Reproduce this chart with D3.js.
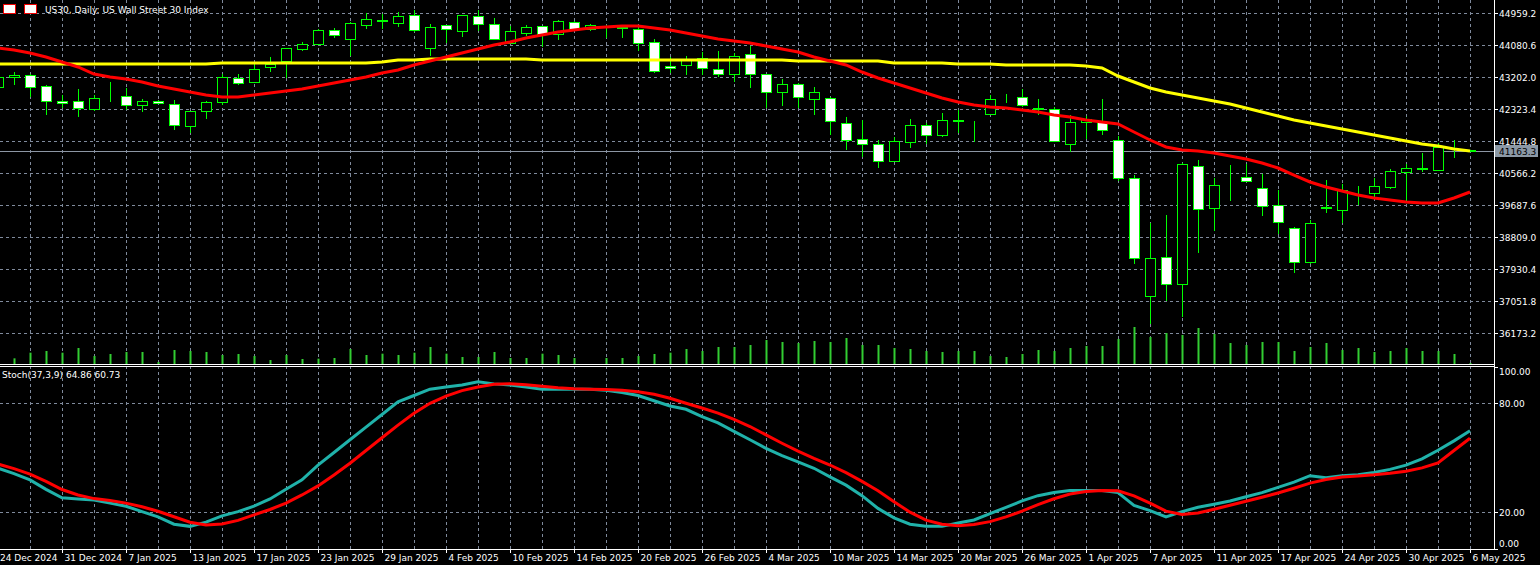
<!DOCTYPE html>
<html>
<head>
<meta charset="utf-8">
<script src="https://cdn.jsdelivr.net/npm/d3@7"></script>
<style>
  body { margin: 0; background: #000; overflow: hidden; }
  svg { display: block; font-family: "DejaVu Sans", sans-serif; }
</style>
</head>
<body>
<svg id="chart" width="1540" height="565"></svg>
<script>
// daily bars, 24 Dec 2024 .. 6 May 2025 (93 bars)
var open = [42919,43194,43249,42947,42535,42535,42315,42672,42672,42425,
  42535,42453,41849,42260,42507,43166,43057,43469,43633,43963,
  44100,44484,44237,44622,44759,44677,44896,43990,44622,44457,
  44869,44649,44127,44402,44594,44375,44704,44512,44567,44567,
  44512,44155,43496,43524,43716,43414,43276,43825,43276,42782,
  43002,42590,42617,41931,41492,41355,40888,41409,41876,41602,
  41986,41986,42178,42590,42645,42330,42315,41355,41958,41958,
  41464,40421,37181,38252,37510,40750,39597,40476,40448,40146,
  39679,39048,38115,39597,39542,40119,40009,40174,40586,40680,
  40640,41245,41190];
var high = [43249,43331,43276,42974,42700,42864,42700,43057,42892,42590,
  42562,42562,42260,42535,43276,43276,43578,43743,43990,44155,
  44512,44539,44704,44951,44924,44979,45033,44649,44622,44896,
  45033,44814,44594,44622,44594,44759,44731,44649,44622,44594,
  44567,44237,43743,43771,43880,43908,43853,44045,43276,43139,
  43029,42919,42645,42096,42013,41464,41546,42041,41931,42205,
  42288,41986,42700,42727,42864,42590,42370,42150,42123,42590,
  41574,40503,39185,39405,40833,40915,40421,40778,40805,40531,
  40091,39075,39268,40366,40256,40201,40421,40668,40805,41107,
  41382,41464,41195];
var low = [42864,42974,42645,42150,42343,42096,42260,42507,42288,42233,
  42453,41739,41656,42041,42425,42974,43029,43331,43166,43908,
  44073,44265,43771,44512,44512,44567,44429,43771,44127,44292,
  44457,44210,44127,44320,44018,44210,44484,44457,44265,44265,
  43908,43304,43304,43249,43249,43194,43057,42892,42343,42398,
  42343,42150,41602,41190,40997,40695,40860,41245,41355,41546,
  41656,41409,42150,42480,42370,42150,41409,41135,41492,41602,
  40338,38060,36412,37044,36604,38362,38966,39789,40338,39377,
  38883,37813,38060,39460,39185,39679,39899,40119,39762,40586,
  40613,40970,41160];
var close = [43194,43249,42919,42535,42480,42343,42617,42665,42425,42535,
  42480,41876,42260,42507,43194,43029,43414,43551,43990,44100,
  44484,44347,44677,44786,44745,44869,44484,44567,44512,44896,
  44649,44237,44457,44567,44375,44731,44512,44622,44594,44553,
  44127,43359,43441,43688,43441,43276,43771,43276,42782,43002,
  42645,42782,41986,41464,41355,40888,41437,41876,41602,42013,
  42000,41975,42590,42600,42425,42315,41437,41958,42041,41739,
  40421,38224,38224,37510,40805,39570,40229,40470,40338,39652,
  39213,38115,39185,39625,40091,40125,40201,40613,40695,40695,
  41272,41240,41163];
var volume = [15,17,34,39,34,48,24,30,36,36,6,
  42,39,36,27,30,24,12,27,15,16,
  18,45,27,31,27,34,51,31,21,21,
  36,18,18,31,27,18,0,18,18,24,
  30,34,45,39,51,51,57,72,66,63,
  69,66,78,57,57,48,45,39,36,39,
  39,24,21,30,42,39,48,54,54,75,
  111,81,93,87,108,90,63,57,66,66,
  39,51,63,42,48,36,39,48,39,39,
  30,3];
var maFast = [43990,43935,43853,43743,43606,43469,43276,43194,43139,43057,
  42947,42864,42782,42700,42645,42645,42700,42755,42810,42864,
  42947,43029,43111,43194,43304,43386,43524,43633,43743,43853,
  43963,44073,44155,44265,44347,44429,44484,44539,44567,44594,
  44594,44539,44484,44402,44320,44237,44182,44127,44045,43963,
  43880,43743,43633,43524,43331,43166,43029,42892,42755,42617,
  42507,42425,42370,42343,42288,42233,42150,42096,42013,41958,
  41903,41684,41464,41272,41190,41162,41107,41025,40943,40833,
  40695,40503,40311,40174,40064,39954,39872,39817,39762,39735,
  39735,39872,40036];
var maSlow = [43551,43551,43551,43551,43551,43551,43551,43551,43551,43551,
  43551,43551,43551,43551,43578,43578,43578,43578,43578,43578,
  43578,43578,43578,43578,43606,43661,43661,43688,43688,43688,
  43688,43688,43688,43688,43661,43661,43661,43661,43661,43661,
  43661,43661,43661,43661,43661,43661,43661,43661,43661,43661,
  43633,43633,43633,43633,43633,43633,43578,43578,43578,43578,
  43551,43551,43551,43524,43524,43524,43524,43524,43496,43441,
  43221,43057,42892,42782,42700,42617,42535,42453,42343,42233,
  42123,42013,41931,41849,41766,41684,41602,41519,41437,41355,
  41300,41217,41162];
var stochMain = [44.2,41.3,37.8,32.6,27.9,27.3,26.7,25.0,23.3,20.3,
  17.4,13.4,12.2,14.5,18.0,20.3,23.3,27.3,32.6,37.8,
  45.9,52.9,59.9,66.9,73.8,80.8,84.3,87.8,89.0,90.1,
  91.9,90.7,90.1,89.0,87.8,87.8,87.8,87.8,87.2,86.0,
  84.3,81.4,78.5,76.7,72.7,69.2,64.5,59.9,55.2,51.2,
  47.7,44.2,39.5,34.9,29.1,22.1,16.9,13.4,12.2,12.2,
  14.0,15.7,19.2,22.7,26.2,29.1,30.8,32.0,32.0,32.0,
  30.8,23.8,20.9,17.4,20.3,22.7,24.4,26.2,28.5,30.8,
  33.7,36.6,40.1,39.0,40.1,40.7,41.9,43.6,45.9,49.4,
  54.1,59.3,64.86];
var stochSignal = [46.5,44.0,41.0,37.0,32.5,29.5,27.5,26.5,25.0,23.0,
  20.5,17.5,14.5,13.0,13.5,15.5,18.5,21.5,25.0,29.5,
  34.5,40.5,47.0,54.0,61.0,68.0,74.5,80.0,84.0,87.0,
  89.0,90.5,90.8,90.2,89.4,88.6,88.0,87.8,87.6,87.2,
  86.4,85.0,82.8,80.0,77.4,74.6,71.2,67.2,62.6,58.0,
  53.6,49.6,46.0,41.8,37.0,31.8,25.8,20.0,15.6,13.4,
  12.6,13.2,14.8,17.4,20.6,24.2,27.4,30.0,31.4,32.0,
  31.8,29.0,25.0,20.6,18.8,19.6,21.6,23.8,26.0,28.2,
  30.6,33.2,36.0,38.0,39.4,40.0,40.6,41.4,42.6,44.4,
  47.2,54.0,60.73];
var dateLabels = ["24 Dec 2024","31 Dec 2024","7 Jan 2025","13 Jan 2025","17 Jan 2025",
  "23 Jan 2025","29 Jan 2025","4 Feb 2025","10 Feb 2025","14 Feb 2025","20 Feb 2025",
  "26 Feb 2025","4 Mar 2025","10 Mar 2025","14 Mar 2025","20 Mar 2025","26 Mar 2025",
  "1 Apr 2025","7 Apr 2025","11 Apr 2025","17 Apr 2025","24 Apr 2025","30 Apr 2025","6 May 2025"];
var dateBars = [0,4,8,12,16,20,24,28,32,36,40,44,48,52,56,60,64,68,72,76,80,84,88,92];
var priceTicks = [44959.2,44080.6,43202.0,42323.4,41444.8,40566.2,39687.6,38809.0,37930.4,37051.8,36173.2];
var stochTicks = [100,80,20,0];
var lastPrice = 41163.3;

var svg = d3.select("#chart");
var W = 1494, mainBottom = 364, subTop = 367, subBottom = 549;
var grid = "#7f8a9c", fg = "#fff", candle = "#00ff00";

var x = d3.scaleLinear().domain([0, 92]).range([-2, 1470]);
var y = d3.scaleLinear().domain([36173.2, 44959.2]).range([332.7, 12.7]);
var yv = d3.scaleLinear().domain([0, 111]).range([mainBottom, mainBottom - 37]);
var ys = d3.scaleLinear().domain([0, 100]).range([548.5, 367]);
var idx = d3.range(open.length);

svg.append("defs").append("clipPath").attr("id", "cm")
  .append("rect").attr("x", 0).attr("y", 0).attr("width", W).attr("height", mainBottom);
svg.select("defs").append("clipPath").attr("id", "cs")
  .append("rect").attr("x", 0).attr("y", subTop).attr("width", W).attr("height", subBottom - subTop);

// grid
var gridX = d3.range(2, 93, 2);
svg.append("g").selectAll("line").data(gridX).join("line")
  .attr("x1", d => x(d) + 0.5).attr("x2", d => x(d) + 0.5)
  .attr("y1", 0).attr("y2", subBottom)
  .attr("stroke", grid).attr("stroke-dasharray", "3,3");
svg.append("g").selectAll("line").data(priceTicks).join("line")
  .attr("x1", 0).attr("x2", W).attr("y1", d => Math.round(y(d)) + 0.5).attr("y2", d => Math.round(y(d)) + 0.5)
  .attr("stroke", grid).attr("stroke-dasharray", "3,3");
svg.append("g").selectAll("line").data([80, 20]).join("line")
  .attr("x1", 0).attr("x2", W).attr("y1", d => Math.round(ys(d)) + 0.5).attr("y2", d => Math.round(ys(d)) + 0.5)
  .attr("stroke", grid).attr("stroke-dasharray", "3,3");

var main = svg.append("g").attr("clip-path", "url(#cm)");

// volumes
main.append("g").selectAll("line").data(idx).join("line")
  .attr("x1", i => x(i) + 0.5).attr("x2", i => x(i) + 0.5)
  .attr("y1", yv(0)).attr("y2", i => yv(volume[i]))
  .attr("stroke", "#32cd32").attr("stroke-width", 2);

// current price line
main.append("line").attr("x1", 0).attr("x2", W)
  .attr("y1", Math.round(y(lastPrice)) + 0.5).attr("y2", Math.round(y(lastPrice)) + 0.5)
  .attr("stroke", "#8c96a4");

// candles
var c = main.append("g").selectAll("g").data(idx).join("g");
c.append("line")
  .attr("x1", i => x(i) + 0.5).attr("x2", i => x(i) + 0.5)
  .attr("y1", i => y(high[i])).attr("y2", i => y(low[i]))
  .attr("stroke", candle);
c.append("rect")
  .attr("x", i => x(i) - 4.5).attr("width", 10)
  .attr("y", i => Math.round(y(Math.max(open[i], close[i]))) + 0.5)
  .attr("height", i => Math.max(0, Math.round(Math.abs(y(open[i]) - y(close[i])))))
  .attr("fill", i => close[i] >= open[i] ? "#000" : "#fff")
  .attr("stroke", candle);

// moving averages
var line = arr => d3.line().x(i => x(i)).y(i => y(arr[i]))(idx);
main.append("path").attr("d", line(maSlow)).attr("fill", "none").attr("stroke", "#ffff00").attr("stroke-width", 3);
main.append("path").attr("d", line(maFast)).attr("fill", "none").attr("stroke", "#ff0000").attr("stroke-width", 3);

// stochastic
var sub = svg.append("g").attr("clip-path", "url(#cs)");
var sline = arr => d3.line().x(i => x(i)).y(i => ys(arr[i]))(idx);
sub.append("path").attr("d", sline(stochMain)).attr("fill", "none").attr("stroke", "#20b2aa").attr("stroke-width", 3);
sub.append("path").attr("d", sline(stochSignal)).attr("fill", "none").attr("stroke", "#ff0000").attr("stroke-width", 3);

// frame
svg.append("line").attr("x1", 0).attr("x2", W).attr("y1", 364.5).attr("y2", 364.5).attr("stroke", fg);
svg.append("line").attr("x1", 0).attr("x2", W).attr("y1", 366.5).attr("y2", 366.5).attr("stroke", fg);
svg.append("line").attr("x1", 0).attr("x2", W + 0.5).attr("y1", subBottom + 0.5).attr("y2", subBottom + 0.5).attr("stroke", fg);
svg.append("line").attr("x1", W + 0.5).attr("x2", W + 0.5).attr("y1", 0).attr("y2", subBottom).attr("stroke", fg);

// right axis labels
var ax = svg.append("g").attr("font-size", 9).attr("fill", fg);
priceTicks.forEach(function(p) {
  var yy = Math.round(y(p)) + 0.5;
  ax.append("line").attr("x1", W).attr("x2", W + 4).attr("y1", yy).attr("y2", yy).attr("stroke", fg);
  ax.append("text").attr("x", W + 5).attr("y", yy + 3.5).text(p.toFixed(1));
});
stochTicks.forEach(function(v) {
  var yy = Math.min(Math.max(ys(v), 371.5), 543.5);
  ax.append("line").attr("x1", W).attr("x2", W + 4).attr("y1", Math.round(ys(v)) + 0.5).attr("y2", Math.round(ys(v)) + 0.5).attr("stroke", fg);
  ax.append("text").attr("x", W + 5).attr("y", yy + 3.5).text(v.toFixed(2));
});
var ly = Math.round(y(lastPrice));
svg.append("rect").attr("x", W + 1).attr("y", ly - 6).attr("width", 43).attr("height", 12).attr("fill", "#8c99a6");
svg.append("text").attr("x", W + 5).attr("y", ly + 3.5).attr("font-size", 9).attr("fill", "#000").text(lastPrice.toFixed(1));

// date labels
var dl = svg.append("g").attr("font-size", 9).attr("fill", fg);
dateBars.forEach(function(b, k) {
  var xx = Math.round(x(b)) + 0.5;
  if (k > 0) dl.append("line").attr("x1", xx).attr("x2", xx).attr("y1", subBottom).attr("y2", subBottom + 4).attr("stroke", fg);
  dl.append("text").attr("x", k === 0 ? 0 : xx + 2).attr("y", 561).text(dateLabels[k]);
});

// titles
var icon = svg.append("g");
icon.append("rect").attr("x", 3.5).attr("y", 4.5).attr("width", 12).attr("height", 9).attr("fill", "#fff").attr("stroke", "#e00");
icon.append("rect").attr("x", 24.5).attr("y", 4.5).attr("width", 12).attr("height", 9).attr("fill", "#fff").attr("stroke", "#e00");
svg.append("text").attr("x", 45).attr("y", 13).attr("font-size", 9).attr("fill", fg).text("US30, Daily:  US Wall Street 30 Index");
svg.append("text").attr("x", 2).attr("y", 378).attr("font-size", 9).attr("fill", fg).text("Stoch(37,3,9) 64.86 60.73");
</script>
</body>
</html>
